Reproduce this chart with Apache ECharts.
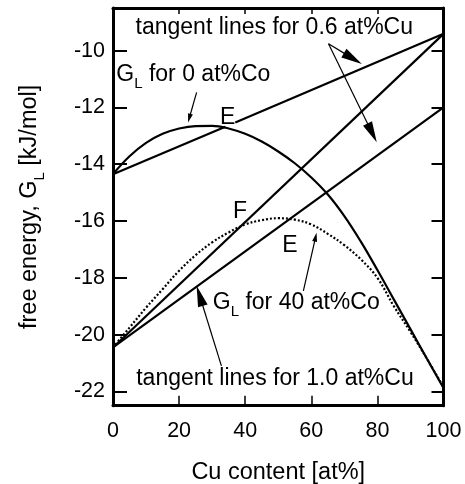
<!DOCTYPE html>
<html>
<head>
<meta charset="utf-8">
<script src="https://cdn.jsdelivr.net/npm/echarts@6/dist/echarts.min.js"></script>
<style>
  html, body { margin: 0; padding: 0; background: #fff; }
  #chart { width: 465px; height: 484px; }
</style>
</head>
<body>
<div id="chart"></div>
<script>
// Cu content (at%) sampling of the liquid free-energy curves
const cuContent = [0, 5, 10, 15, 20, 25, 30, 35, 40, 45, 50, 55, 60, 65, 70, 75, 80, 85, 90, 95, 100];
// G_L (kJ/mol) for 0 at%Co
const glCo0 = [-14.35, -13.72, -13.25, -12.93, -12.74, -12.655, -12.65, -12.74, -12.93, -13.20, -13.55,
               -13.965, -14.465, -15.065, -15.825, -16.725, -17.725, -18.765, -19.805, -20.845, -21.875];
// G_L (kJ/mol) for 40 at%Co
const glCo40 = [-20.45, -19.75, -19.05, -18.4, -17.75, -17.2, -16.75, -16.4, -16.12, -15.97, -15.9,
                -15.95, -16.12, -16.45, -16.85, -17.35, -18.0, -19.0, -19.9, -20.85, -21.85];

// Tangent lines: [Cu at%, G_L]
const tangentUpperA = [[0, -14.35], [34, -12.68]];
const tangentUpperB = [[37, -12.53], [100, -9.41]];
const tangentSteep = [[0, -20.45], [100, -9.41]];
const tangentLower = [[0, -20.45], [100, -12.0]];

// Axis ticks
const xTicks = [0, 20, 40, 60, 80, 100];
const yTicks = [-22, -20, -18, -16, -14, -12, -10];

// Text annotations (anchor in data units)
const noteText = [
  'tangent lines for 0.6 at%Cu',
  'G{sub|L} for 0 at%Co',
  'E',
  'F',
  'E',
  'G{sub|L} for 40 at%Co',
  'tangent lines for 1.0 at%Cu'
];
const noteAnchor = [[48.8, -9.2], [1.0, -10.85], [34.7, -12.35], [38.4, -15.66], [53.5, -16.86], [30.2, -18.86], [49.0, -21.55]];
const noteAlign = ['center', 'left', 'center', 'center', 'center', 'left', 'center'];

// Arrows: [fromX, fromY] -> [toX, toY]
const arrowFrom = [[65.2, -9.76], [65.2, -9.76], [25.3, -11.47], [57.6, -18.46], [32.8, -21.1]];
const arrowTo = [[75.3, -10.47], [79.8, -13.23], [22.7, -12.53], [61.6, -16.41], [25.3, -18.28]];
const arrowKind = ['big', 'big', 'small', 'small', 'big'];
const headStyle = { big: { len: 21, w: 10 }, small: { len: 9, w: 5 } };

const FONT = '"Liberation Sans", Arial, Helvetica, sans-serif';
const SUB = { fontSize: 15, fontFamily: FONT, color: '#000', fill: '#000', lineHeight: 15, padding: [19, 0, 0, 0] };

const pairs = (xs, ys) => xs.map((x, i) => [x, ys[i]]);

const solid = { color: '#000', width: 2.2, type: 'solid' };

const lineSeries = (name, data, style, smooth) => ({
  name, type: 'line', data, smooth: smooth ? 0.4 : false,
  showSymbol: false, symbol: 'none', lineStyle: style, itemStyle: { color: '#000' },
  clip: true, silent: true, z: 3
});

const axisCommon = {
  type: 'value',
  axisLine: { show: true, onZero: false, lineStyle: { color: '#000', width: 3 } },
  splitLine: { show: false },
};

const chart = echarts.init(document.getElementById('chart'), null, { renderer: 'canvas' });

chart.setOption({
  animation: false,
  backgroundColor: '#fff',
  grid: { left: 113, right: 21.5, top: 8, bottom: 78.3, containLabel: false, outerBoundsMode: 'none' },
  xAxis: [
    Object.assign({}, axisCommon, {
      position: 'bottom', min: 0, max: 100, interval: 20,
      axisTick: { show: true, inside: true, length: 10, lineStyle: { color: '#000', width: 1.5 } },
      axisLabel: { show: true, margin: 14, color: '#000', fontSize: 21.5, fontFamily: FONT },
      name: 'Cu content [at%]', nameLocation: 'middle', nameGap: 54.5,
      nameTextStyle: { color: '#000', fontSize: 23.5, fontFamily: FONT }
    }),
    Object.assign({}, axisCommon, {
      position: 'top', min: 0, max: 100, interval: 20,
      axisTick: { show: true, inside: true, length: 6, lineStyle: { color: '#000', width: 1.5 } },
      axisLabel: { show: false }
    })
  ],
  yAxis: [
    Object.assign({}, axisCommon, {
      position: 'left', min: -22.5, max: -8.5,
      axisTick: { show: true, inside: true, length: 14, customValues: yTicks, lineStyle: { color: '#000', width: 2 } },
      axisLabel: { show: true, margin: 8, customValues: yTicks, color: '#000', fontSize: 21.5, fontFamily: FONT },
      name: 'free energy, G{sub|L} [kJ/mol]', nameLocation: 'middle', nameGap: 71, nameRotate: 90,
      nameTextStyle: { color: '#000', fontSize: 23.5, fontFamily: FONT, rich: { sub: SUB } }
    }),
    Object.assign({}, axisCommon, {
      position: 'right', min: -22.5, max: -8.5,
      axisTick: { show: true, inside: true, length: 12, customValues: yTicks, lineStyle: { color: '#000', width: 2 } },
      axisLabel: { show: false }
    })
  ],
  series: [
    lineSeries('G_L 0 at%Co', pairs(cuContent, glCo0), solid, true),
    lineSeries('G_L 40 at%Co', pairs(cuContent, glCo40), { color: '#000', width: 2.2, type: [2, 2] }, true),
    lineSeries('tangent upper a', tangentUpperA, solid, false),
    lineSeries('tangent upper b', tangentUpperB, solid, false),
    lineSeries('tangent steep', tangentSteep, solid, false),
    lineSeries('tangent lower', tangentLower, solid, false),
    {
      name: 'arrows', type: 'custom', silent: true, z: 5,
      data: arrowFrom.map((p, i) => [p[0], p[1], arrowTo[i][0], arrowTo[i][1]]),
      encode: { x: [0, 2], y: [1, 3] },
      renderItem(params, api) {
        const p1 = api.coord([api.value(0), api.value(1)]);
        const p2 = api.coord([api.value(2), api.value(3)]);
        const h = headStyle[arrowKind[params.dataIndex]];
        const dx = p2[0] - p1[0], dy = p2[1] - p1[1];
        const len = Math.hypot(dx, dy);
        const ux = dx / len, uy = dy / len;
        const bx = p2[0] - ux * h.len, by = p2[1] - uy * h.len;
        const nx = -uy, ny = ux;
        return {
          type: 'group',
          children: [
            { type: 'line', shape: { x1: p1[0], y1: p1[1], x2: bx + ux * 2, y2: by + uy * 2 },
              style: { stroke: '#000', lineWidth: 1.2 } },
            { type: 'polygon',
              shape: { points: [[p2[0], p2[1]], [bx + nx * h.w / 2, by + ny * h.w / 2], [bx - nx * h.w / 2, by - ny * h.w / 2]] },
              style: { fill: '#000' } }
          ]
        };
      }
    },
    {
      name: 'notes', type: 'custom', silent: true, z: 6,
      data: noteAnchor.map(p => [p[0], p[1]]),
      encode: { x: 0, y: 1 },
      renderItem(params, api) {
        const p = api.coord([api.value(0), api.value(1)]);
        const i = params.dataIndex;
        return {
          type: 'text', x: p[0], y: p[1],
          style: {
            text: noteText[i], fill: '#000', fontSize: 23, fontFamily: FONT,
            align: noteAlign[i], verticalAlign: 'middle',
            rich: { sub: SUB }
          }
        };
      }
    }
  ]
});
</script>
</body>
</html>
